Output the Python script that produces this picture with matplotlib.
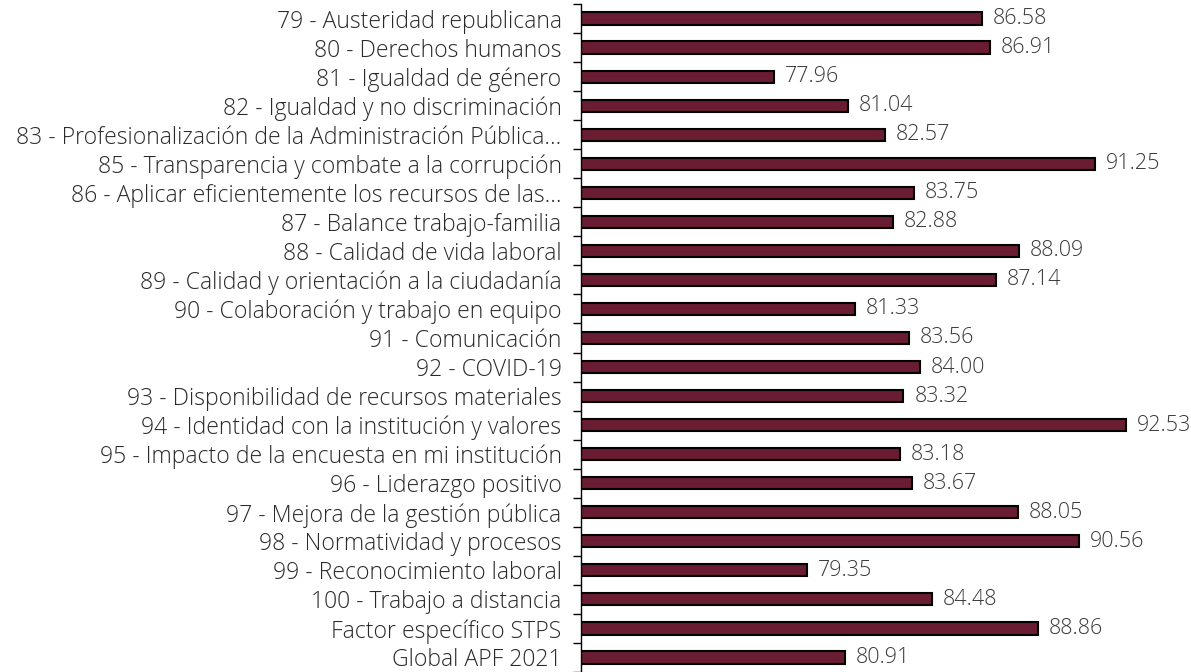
import numpy as np
import matplotlib.pyplot as plt

categories = [
    "79 - Austeridad republicana",
    "80 - Derechos humanos",
    "81 - Igualdad de género",
    "82 - Igualdad y no discriminación",
    "83 - Profesionalización de la Administración Pública...",
    "85 - Transparencia y combate a la corrupción",
    "86 - Aplicar eficientemente los recursos de las...",
    "87 - Balance trabajo-familia",
    "88 - Calidad de vida laboral",
    "89 - Calidad y orientación a la ciudadanía",
    "90 - Colaboración y trabajo en equipo",
    "91 - Comunicación",
    "92 - COVID-19",
    "93 - Disponibilidad de recursos materiales",
    "94 - Identidad con la institución y valores",
    "95 - Impacto de la encuesta en mi institución",
    "96 - Liderazgo positivo",
    "97 - Mejora de la gestión pública",
    "98 - Normatividad y procesos",
    "99 - Reconocimiento laboral",
    "100 - Trabajo a distancia",
    "Factor específico STPS",
    "Global APF 2021",
]
values = [86.58, 86.91, 77.96, 81.04, 82.57, 91.25, 83.75, 82.88, 88.09, 87.14,
          81.33, 83.56, 84.00, 83.32, 92.53, 83.18, 83.67, 88.05, 90.56, 79.35,
          84.48, 88.86, 80.91]

plt.rcParams['font.family'] = ['Open Sans', 'DejaVu Sans']

fig = plt.figure(figsize=(11.91, 6.72), dpi=100)
ax = fig.add_axes([581 / 1191, 0.0, 1 - 581 / 1191, 1 - 4 / 672])

y = np.arange(len(categories))
ax.barh(y, values, height=0.42, color="#691c32", edgecolor="black", linewidth=1.5)

for yi, v in zip(y, values):
    ax.text(v + 0.45, yi, f"{v:.2f}", va="center", ha="left", fontsize=15.5,
            fontweight="light", color="#3a3a3a")

ax.set_xlim(70, 95.2)
ax.set_ylim(len(categories) - 0.5, -0.5)
ax.set_yticks(y)
ax.set_yticklabels(categories, fontsize=16.6, fontweight="light", color="#2a2a2a")
ax.tick_params(axis="y", which="major", length=0, pad=14)
ax.set_yticks(np.arange(-0.5, len(categories), 1), minor=True)
ax.tick_params(axis="y", which="minor", length=6, width=1, color="black", direction="out")
ax.set_xticks([])
for s in ["top", "right", "bottom"]:
    ax.spines[s].set_visible(False)
ax.spines["left"].set_linewidth(1)

fig.savefig("out.png", dpi=100)
